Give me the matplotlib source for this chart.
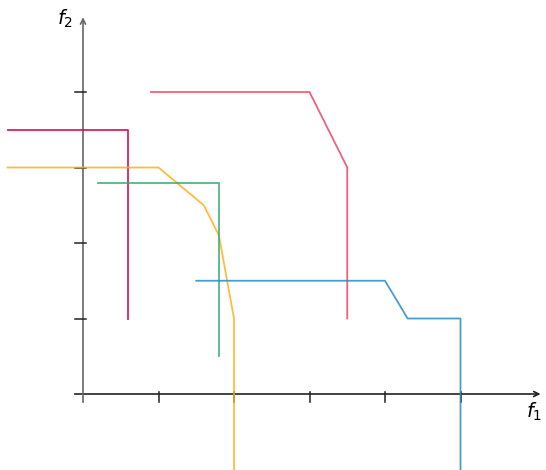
import matplotlib
matplotlib.use("Agg")
import matplotlib.pyplot as plt

plt.rcParams['mathtext.fontset'] = 'dejavusans'

# Kurven (f1, f2)
crimson_x = [-1.0, 0.6, 0.6]
crimson_y = [3.5, 3.5, 1.0]

red_x = [0.9, 3.0, 3.5, 3.5]
red_y = [4.0, 4.0, 3.0, 1.0]

orange_x = [-1.0, 1.0, 1.6, 1.8, 2.0, 2.0]
orange_y = [3.0, 3.0, 2.5, 2.1, 1.0, -1.0]

green_x = [0.2, 1.8, 1.8]
green_y = [2.8, 2.8, 0.5]

blue_x = [1.5, 4.0, 4.3, 5.0, 5.0]
blue_y = [1.5, 1.5, 1.0, 1.0, -1.0]

x_ticks = [1, 2, 3, 4, 5]
y_ticks = [1, 2, 3, 4]

fig = plt.figure(figsize=(5.46, 4.70), dpi=100)
ax = fig.add_axes([0, 0, 1, 1])
ax.set_xlim(-83 / 75.5, (546 - 83) / 75.5)
ax.set_ylim(-76 / 75.5, 394 / 75.5)
ax.axis('off')

# Achsen mit Pfeilen
ax.annotate('', xy=(6.06, 0), xytext=(-0.11, 0),
            arrowprops=dict(arrowstyle='->', color='#222222', lw=1.2,
                            shrinkA=0, shrinkB=0, mutation_scale=9), zorder=1)
ax.annotate('', xy=(0, 4.99), xytext=(0, -0.11),
            arrowprops=dict(arrowstyle='->', color='#666666', lw=1.2,
                            shrinkA=0, shrinkB=0, mutation_scale=9), zorder=1)

for t in x_ticks:
    ax.plot([t, t], [-0.11, 0.03], color='#222222', lw=1.1, zorder=1)
for t in y_ticks:
    ax.plot([-0.11, 0.04], [t, t], color='#222222', lw=1.1, zorder=1)

ax.text(5.97, -0.23, '$f_1$', fontsize=14, ha='center', va='center')
ax.text(-0.24, 4.97, '$f_2$', fontsize=14, ha='center', va='center')

ax.plot(crimson_x, crimson_y, color='#d7064f', lw=1.3, alpha=0.9, zorder=2)
ax.plot(red_x, red_y, color='#f0506e', lw=1.3, alpha=0.9, zorder=2)
ax.plot(orange_x, orange_y, color='#ffb020', lw=1.3, alpha=0.85, zorder=2)
ax.plot(green_x, green_y, color='#37a86e', lw=1.3, alpha=0.85, zorder=2)
ax.plot(blue_x, blue_y, color='#2a8dc5', lw=1.3, alpha=0.85, zorder=2)

fig.savefig('out.png', dpi=100)
